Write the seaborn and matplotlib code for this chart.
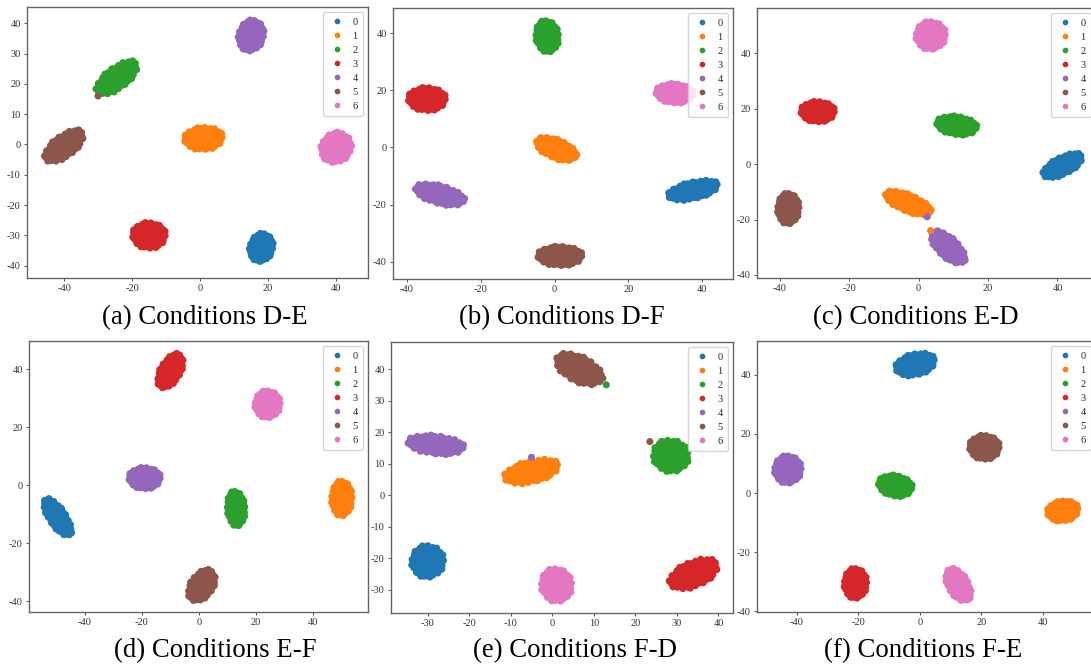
import numpy as np
import pandas as pd
import matplotlib
matplotlib.use("Agg")
import matplotlib.pyplot as plt
import seaborn as sns

# ---------------- data ----------------
class_labels = ["0", "1", "2", "3", "4", "5", "6"]
captions = ["(a) Conditions D-E", "(b) Conditions D-F", "(c) Conditions E-D",
            "(d) Conditions E-F", "(e) Conditions F-D", "(f) Conditions F-E"]

# cluster centre x / y, half-extent along main axis / cross axis, tilt (deg) for classes 0..6
a_cx = [18, 1, -24.5, -15, 15, -40, 40]
a_cy = [-34, 2, 22, -30, 36, -0.5, -1]
a_rl = [4.8, 5.8, 7.7, 5.0, 5.3, 7.2, 5.2]
a_rs = [3.5, 3.8, 3.4, 4.4, 3.8, 3.4, 4.5]
a_ang = [80, 5, 42, 0, 80, 42, 70]

b_cx = [37.5, 0.5, -2, -34.5, -31, 1.5, 32.5]
b_cy = [-15, -0.5, 39, 17, -16.5, -38, 19]
b_rl = [7.2, 6.2, 5.7, 5.2, 7.2, 6.2, 5.2]
b_rs = [3.0, 3.2, 3.2, 4.2, 3.2, 3.5, 3.5]
b_ang = [18, -30, 95, 0, -20, 0, -5]

c_cx = [41.5, -3, 11, -29, 8.5, -37.5, 3.5]
c_cy = [-0.5, -14, 14, 19, -30, -16, 46.5]
c_rl = [6.7, 7.5, 6.0, 5.0, 7.2, 5.7, 5.2]
c_rs = [3.0, 3.0, 3.4, 3.8, 3.2, 3.2, 4.4]
c_ang = [35, -28, -10, 0, -52, 90, 90]

d_cx = [-49.5, 50, 13, -10, -19, 1, 24]
d_cy = [-11, -4.5, -8, 39.5, 2.5, -34.5, 28]
d_rl = [7.7, 6.2, 6.2, 6.7, 5.7, 6.2, 4.8]
d_rs = [3.0, 3.7, 3.2, 3.6, 3.8, 4.0, 4.6]
d_ang = [-55, 90, 95, 60, 0, 55, 90]

e_cx = [-30, -5, 28.5, 34, -28, 6.5, 1]
e_cy = [-21, 7.5, 12.5, -25, 16, 40, -28.5]
e_rl = [5.2, 7.0, 5.2, 6.7, 7.0, 6.7, 5.4]
e_rs = [4.0, 3.4, 4.4, 3.8, 3.0, 3.8, 3.8]
e_ang = [90, 20, 100, 35, -8, -38, 95]

f_cx = [-1.5, 46.5, -8, -21, -43, 21, 12.5]
f_cy = [43.5, -6, 2.5, -30.5, 8, 15.5, -31]
f_rl = [6.7, 5.2, 5.7, 5.2, 4.8, 5.0, 6.2]
f_rs = [3.7, 3.5, 3.6, 3.8, 4.5, 4.2, 3.4]
f_ang = [15, 10, -10, 90, 90, 0, -60]

# stray single points (x, y, class)
a_stray = [(-30, 16, "5")]
b_stray = []
c_stray = [(2.5, -19, "4"), (3.5, -24, "1")]
d_stray = []
e_stray = [(13, 35, "2"), (-5, 12, "4"), (23.5, 17, "5")]
f_stray = []

# axis limits and ticks of each panel
xlims = [(-50.9, 49.4), (-43.7, 48.3), (-46.5, 51.1), (-59.5, 59.2), (-38.8, 43.5), (-53.0, 57.3)]
ylims = [(-44.1, 45.4), (-46.1, 48.9), (-41.1, 56.4), (-43.7, 49.8), (-37.4, 48.6), (-40.2, 51.4)]
xticks = [[-40, -20, 0, 20, 40], [-40, -20, 0, 20, 40], [-40, -20, 0, 20, 40],
          [-40, -20, 0, 20, 40], [-30, -20, -10, 0, 10, 20, 30, 40], [-40, -20, 0, 20, 40]]
yticks = [[-40, -30, -20, -10, 0, 10, 20, 30, 40], [-40, -20, 0, 20, 40], [-40, -20, 0, 20, 40],
          [-40, -20, 0, 20, 40], [-30, -20, -10, 0, 10, 20, 30, 40], [-40, -20, 0, 20, 40]]

panels = [
    (a_cx, a_cy, a_rl, a_rs, a_ang, a_stray),
    (b_cx, b_cy, b_rl, b_rs, b_ang, b_stray),
    (c_cx, c_cy, c_rl, c_rs, c_ang, c_stray),
    (d_cx, d_cy, d_rl, d_rs, d_ang, d_stray),
    (e_cx, e_cy, e_rl, e_rs, e_ang, e_stray),
    (f_cx, f_cy, f_rl, f_rs, f_ang, f_stray),
]

# ---------------- layout (pixel boxes: left, right, top, bottom) ----------------
W, H = 1091, 670
boxes = [(27, 368, 7, 278), (393, 733, 8, 279), (757, 1096, 8, 278),
         (29, 368, 341, 612), (391, 733, 342, 613), (757, 1096, 341, 612)]
cap_pos = [(205, 318), (562, 318), (916, 318), (215, 651), (575, 651), (923, 651)]

sns.set_theme(style="ticks")
plt.rcParams["font.family"] = ["Liberation Serif", "DejaVu Serif"]
plt.rcParams["axes.unicode_minus"] = False

fig = plt.figure(figsize=(W / 100, H / 100), dpi=100)
fig.patch.set_facecolor("white")

N_PTS = 100
golden = np.pi * (3 - np.sqrt(5))
idx = np.arange(N_PTS)
rr = np.sqrt((idx + 0.5) / N_PTS)
tt = idx * golden


def cluster_frame(cx, cy, rl, rs, ang, stray):
    rows = []
    for k, lab in enumerate(class_labels):
        th = np.deg2rad(ang[k])
        u = rl[k] * rr * np.cos(tt)
        v = rs[k] * rr * np.sin(tt)
        xs = cx[k] + u * np.cos(th) - v * np.sin(th)
        ys = cy[k] + u * np.sin(th) + v * np.cos(th)
        rows.append(pd.DataFrame({"x": xs, "y": ys, "label": lab}))
    if stray:
        rows.append(pd.DataFrame(stray, columns=["x", "y", "label"]))
    return pd.concat(rows, ignore_index=True)


palette = dict(zip(class_labels, sns.color_palette("tab10", 7)))

for i, (cx, cy, rl, rs, ang, stray) in enumerate(panels):
    l, r, t, b = boxes[i]
    ax = fig.add_axes([l / W, 1 - b / H, (r - l) / W, (b - t) / H])
    df = cluster_frame(cx, cy, rl, rs, ang, stray)
    sns.scatterplot(data=df, x="x", y="y", hue="label", hue_order=class_labels,
                    palette=palette, s=26, linewidth=0, ax=ax)
    ax.set_xlim(*xlims[i])
    ax.set_ylim(*ylims[i])
    ax.set_xticks(xticks[i])
    ax.set_yticks(yticks[i])
    ax.set_xlabel("")
    ax.set_ylabel("")
    ax.tick_params(labelsize=7.5, length=2.5, width=0.6, colors="#333333", pad=2)
    for sp in ax.spines.values():
        sp.set_color("#666666")
        sp.set_linewidth(1.0)
    ax.legend(loc="upper right", fontsize=7.5, markerscale=0.8, frameon=True,
              borderpad=0.5, labelspacing=0.45, handletextpad=0.7,
              handlelength=1.6, edgecolor="#cccccc", fancybox=True)
    fig.text(cap_pos[i][0] / W, 1 - cap_pos[i][1] / H, captions[i],
             ha="center", va="center", fontsize=19.3, color="black")

fig.savefig("out.png", dpi=100, facecolor="white")
